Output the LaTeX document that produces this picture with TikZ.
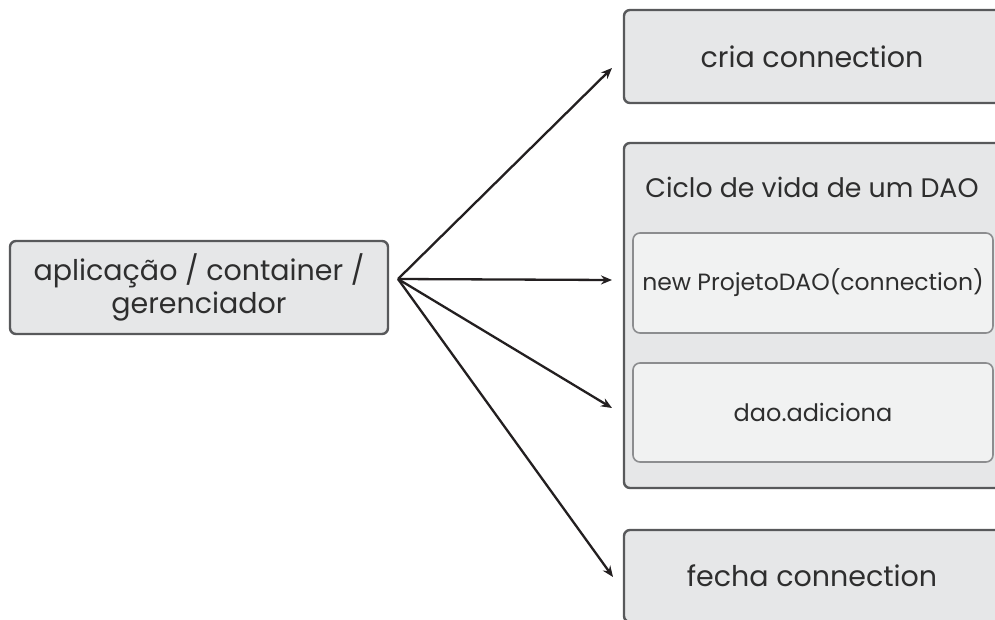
\documentclass[tikz,border=0pt]{standalone}
\usepackage{fontspec}
\setmainfont{Poppins}
\usetikzlibrary{arrows.meta}
\definecolor{boxfill}{HTML}{E6E7E8}
\definecolor{innerfill}{HTML}{F1F2F2}
\definecolor{boxline}{HTML}{58595B}
\definecolor{innerline}{HTML}{8C8D8F}
\definecolor{txt}{HTML}{2E2E2E}
\definecolor{arr}{HTML}{231F20}
\tikzset{
  outerbox/.style={draw=boxline, fill=boxfill, line width=2.4pt, rounded corners=6pt, text=txt, align=center, inner sep=0pt},
  innerbox/.style={draw=innerline, fill=innerfill, line width=1.6pt, rounded corners=7pt, text=txt, align=center, inner sep=0pt},
  conn/.style={draw=arr, line width=2.3pt, -{Stealth[length=11pt,width=9pt]}},
  lbl/.style={text=txt, inner sep=0pt}
}
\begin{document}
\begin{tikzpicture}[x=1pt,y=-1pt]
\clip (0,0) rectangle (995,619);
\fill[white] (0,0) rectangle (995,619);
% left box
\node[outerbox, minimum width=378pt, minimum height=93pt, font=\fontsize{28.5}{33}\selectfont] (app) at (199,287.5) {aplicação / container /\\gerenciador};
% top box
\node[outerbox, minimum width=382pt, minimum height=93pt, font=\fontsize{28.5}{33}\selectfont] (cria) at (815,56.5) {\hspace*{-6pt}cria connection};
% middle outer
\node[outerbox, minimum width=382pt, minimum height=345pt] (ciclo) at (815,315.5) {};
\node[lbl, font=\fontsize{26.8}{32}\selectfont] (title) at (812,187) {Ciclo de vida de um DAO};
\node[innerbox, minimum width=360pt, minimum height=100pt, font=\fontsize{23.5}{28}\selectfont] (newdao) at (813,283) {new ProjetoDAO(connection)};
\node[innerbox, minimum width=360pt, minimum height=99pt, font=\fontsize{24}{28}\selectfont] (adiciona) at (813,412.5) {dao.adiciona};
% bottom box
\node[outerbox, minimum width=382pt, minimum height=92pt, font=\fontsize{28.5}{33}\selectfont] (fecha) at (815,576) {\hspace*{-6pt}fecha connection};
% connectors
\coordinate (hub) at (398,279);
\coordinate (t1) at (612,68);
\coordinate (t2) at (612,280);
\coordinate (t3) at (612,408);
\coordinate (t4) at (613,577);
\draw[conn] (hub) -- (t1);
\draw[conn] (hub) -- (t2);
\draw[conn] (hub) -- (t3);
\draw[conn] (hub) -- (t4);
\end{tikzpicture}
\end{document}
